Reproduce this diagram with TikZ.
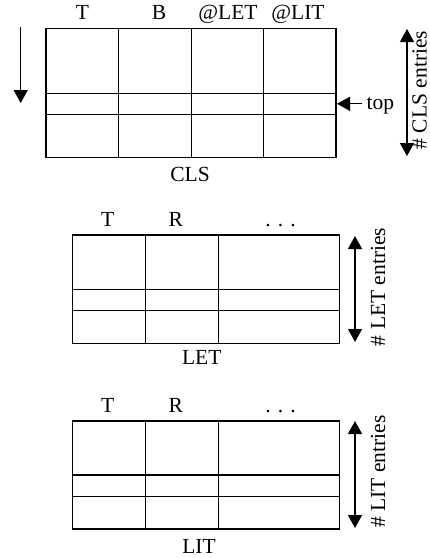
\documentclass[tikz,border=0pt]{standalone}
\usepackage{fontspec}
\setmainfont{Liberation Serif}
\usetikzlibrary{arrows.meta}
\begin{document}
\begin{tikzpicture}[x=1pt,y=-1pt,
  grid/.style={line width=1.3pt},
  lbl/.style={font=\fontsize{21.5}{25}\selectfont, inner sep=0pt, anchor=base},
  vlbl/.style={font=\fontsize{21.5}{25}\selectfont, inner sep=0pt, rotate=90, anchor=base},
  arr/.style={line width=1.3pt, -{Triangle[width=14pt,length=13pt]}},
  darr/.style={line width=1.3pt, {Triangle[width=14pt,length=13pt]}-{Triangle[width=14pt,length=13pt]}}]
\useasboundingbox (0,0) rectangle (430,558);
% ---------- CLS ----------
\coordinate (clsNW) at (46,28.3);
\coordinate (clsSE) at (336,157.3);
\draw[grid] (clsNW) rectangle (clsSE);
\foreach \x in {118.7,191.3,263.7} \draw[grid] (\x,28.3) -- (\x,157.3);
\foreach \y in {93.3,114.3} \draw[grid] (46,\y) -- (336,\y);
\node[lbl] (clsT) at (82.5,19.3) {T};
\node[lbl] (clsB) at (159,19.3) {B};
\node[lbl] (clsLET) at (228,19.3) {@LET};
\node[lbl] (clsLIT) at (298,19.3) {@LIT};
\node[lbl] (clsName) at (190,181.7) {CLS};
\coordinate (dnA) at (20.7,27);
\coordinate (dnB) at (20.7,103);
\draw[arr] (dnA) -- (dnB);
\node[lbl, anchor=base west] (top) at (366.5,109.3) {top};
\coordinate (topTail) at (362,103.8);
\coordinate (topTip) at (337,103.8);
\draw[arr] (topTail) -- (topTip);
\coordinate (clsUp) at (407,29);
\coordinate (clsDn) at (407,156);
\draw[darr] (clsDn) -- (clsUp);
\node[vlbl] (clsN) at (426.5,90) {\# CLS entries};
% ---------- LET ----------
\coordinate (letNW) at (72.7,235);
\coordinate (letSE) at (339.3,343.3);
\draw[grid] (letNW) rectangle (letSE);
\foreach \x in {145.7,218.3} \draw[grid] (\x,235) -- (\x,343.3);
\foreach \y in {289.3,310.7} \draw[grid] (72.7,\y) -- (339.3,\y);
\node[lbl] (letT) at (107.7,226) {T};
\node[lbl] (letR) at (175.7,226) {R};
\node[lbl] (letD) at (280.5,226) {. . .};
\node[lbl] (letName) at (201.7,364) {LET};
\coordinate (letUp) at (355,236);
\coordinate (letDn) at (355,342);
\draw[darr] (letDn) -- (letUp);
\node[vlbl] (letN) at (385,287) {\# LET entries};
% ---------- LIT ----------
\coordinate (litNW) at (72.7,421);
\coordinate (litSE) at (339.3,529);
\draw[grid] (litNW) rectangle (litSE);
\foreach \x in {145.7,218.3} \draw[grid] (\x,421) -- (\x,529);
\foreach \y in {475,496.7} \draw[grid] (72.7,\y) -- (339.3,\y);
\node[lbl] (litT) at (107.7,412) {T};
\node[lbl] (litR) at (175.7,412) {R};
\node[lbl] (litD) at (280.5,412) {. . .};
\node[lbl] (litName) at (199,553.3) {LIT};
\coordinate (litUp) at (355,421);
\coordinate (litDn) at (355,528);
\draw[darr] (litDn) -- (litUp);
\node[vlbl] (litN) at (385,471.7) {\# LIT entries};
\end{tikzpicture}
\end{document}
